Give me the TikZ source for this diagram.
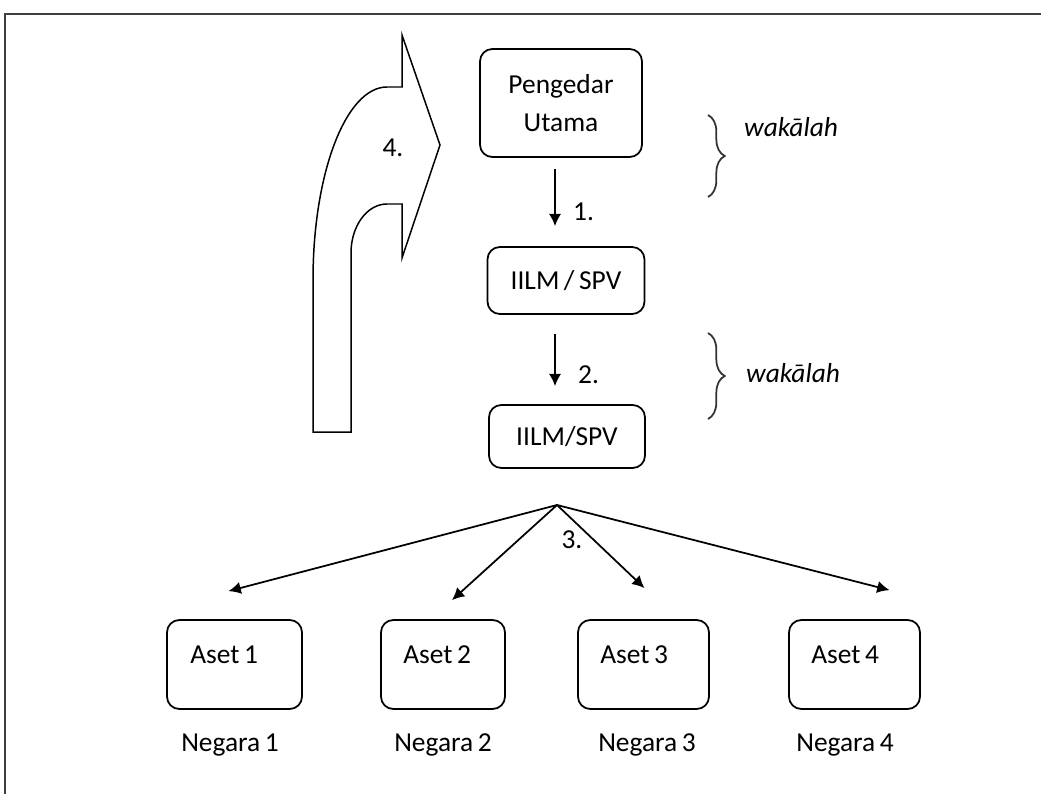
\documentclass[tikz,border=0pt]{standalone}
\usepackage{fontspec}
\setmainfont{Carlito}
\usetikzlibrary{positioning,calc,arrows.meta,decorations.pathreplacing}

\tikzset{
  box/.style={draw, rounded corners=7pt, inner sep=0pt, line width=1pt},
  flow/.style={line width=1pt, -{Latex[length=7pt,width=7pt]}},
  akad/.style={decorate, decoration={brace, amplitude=9.5pt}, line width=1pt, draw=black!80},
  lbl/.style={font=\fontsize{15.6}{22}\selectfont},
}

\begin{document}
\begin{tikzpicture}[x=0.02cm, y=-0.02cm, every node/.style={lbl}]
    \useasboundingbox (0,0) rectangle (1041,794);
    % frame
    \draw[line width=1.5pt, black!75] (5,794) -- (5,14) -- (1041,14);

    % bent arrow (4.)
    \draw[line width=0.85pt] (313,432) -- (313,280)
        .. controls (313,173) and (346,87) .. (387,87) -- (402,87) -- (402,35)
        -- (440,145) -- (402,258) -- (402,204) -- (387,204)
        .. controls (367,204) and (351,226) .. (351,253) -- (351,432) -- cycle;
    \node (n4) at (393,148) {4.};

    % chain
    \node[box, minimum width=3.24cm, minimum height=2.16cm, align=center] (pengedar) at (561,103) {Pengedar\\Utama};
    \node[box, minimum width=3.14cm, minimum height=1.34cm] (spv1) at (566,280.5) {IILM\,/\,SPV};
    \node[box, minimum width=3.12cm, minimum height=1.26cm] (spv2) at (567,436.5) {IILM/SPV};

    \draw[flow] ($(pengedar.south)+(-6,11)$) -- ($(spv1.north)+(-11,-20)$);
    \node[anchor=west] (n1) at (567,212) {1.};
    \draw[flow] ($(spv1.south)+(-11,19)$) -- ($(spv2.north)+(-12,-18)$);
    \node[anchor=west] (n2) at (572,375) {2.};

    % wakalah braces
    \draw[akad] (708,115) -- (708,197);
    \node[anchor=west, font=\fontsize{15.6}{22}\selectfont\itshape] (wak1) at (738,127) {wakālah};
    \draw[akad] (708,333) -- (708,419);
    \node[anchor=west, font=\fontsize{15.6}{22}\selectfont\itshape] (wak2) at (740,373) {wakālah};

    % assets
    \node[box, minimum width=2.7cm, minimum height=1.78cm] (aset1) at (234.5,664.5) {};
    \node[box, minimum width=2.48cm, minimum height=1.78cm] (aset2) at (443,664.5) {};
    \node[box, minimum width=2.62cm, minimum height=1.78cm] (aset3) at (643.5,664.5) {};
    \node[box, minimum width=2.62cm, minimum height=1.78cm] (aset4) at (854.5,664.5) {};
    \node[anchor=west] (a1) at ($(aset1.west)+(18,-10)$) {Aset\,1};
    \node[anchor=west] (a2) at ($(aset2.west)+(17,-10)$) {Aset\,2};
    \node[anchor=west] (a3) at ($(aset3.west)+(17,-10)$) {Aset\,3};
    \node[anchor=west] (a4) at ($(aset4.west)+(17,-10)$) {Aset\,4};

    \node (neg1) at (230,745) {Negara\,1};
    \node (neg2) at (443,745) {Negara\,2};
    \node (neg3) at (647,745) {Negara\,3};
    \node (neg4) at (845,745) {Negara\,4};

    % distribution (3.)
    \coordinate (hub) at (557,505);
    \coordinate (t1) at ($(aset1.north)+(-6,-28)$);
    \coordinate (t2) at ($(aset2.north)+(9,-19)$);
    \coordinate (t3) at ($(aset3.north)+(1,-31)$);
    \coordinate (t4) at ($(aset4.north)+(35,-29)$);
    \draw[flow] (hub) -- (t1);
    \draw[flow] (hub) -- (t2);
    \draw[flow] (hub) -- (t3);
    \draw[flow] (hub) -- (t4);
    \node (n3) at (572,540) {3.};
\end{tikzpicture}
\end{document}
